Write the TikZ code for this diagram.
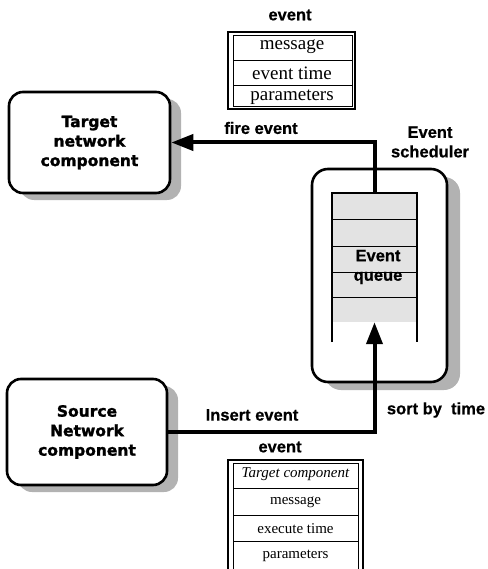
\documentclass[tikz,border=0pt]{standalone}
\usepackage{fontspec}
\setmainfont{Liberation Serif}
\newfontfamily\labelfont[BoldFeatures={FakeBold=0.6}]{Liberation Sans}
\newfontfamily\heavyfont[BoldFeatures={FakeBold=1.6}]{DejaVu Sans}
\usetikzlibrary{arrows.meta,shadows}

\begin{document}
\begin{tikzpicture}[x=1pt,y=-1pt,
  compbox/.style={draw, line width=2.6pt, rounded corners=14pt, fill=white,
    align=center, inner sep=0pt,
    font=\heavyfont\bfseries\fontsize{15.5}{19.5}\selectfont,
    drop shadow={shadow xshift=11pt, shadow yshift=-7pt, fill=gray!60, opacity=1}},
  schedbox/.style={draw, line width=2.6pt, rounded corners=16pt, fill=white,
    inner sep=0pt,
    drop shadow={shadow xshift=13pt, shadow yshift=-8pt, fill=gray!60, opacity=1}},
  queuebox/.style={fill=gray!22, inner sep=0pt},
  lbl/.style={font=\labelfont\bfseries\fontsize{16.5}{19.5}\selectfont, align=center, inner sep=0pt},
  conn/.style={line width=4pt, -{Triangle[length=22pt, width=16pt]}},
  framebig/.style={line width=1.3pt},
  framethin/.style={line width=0.6pt},
  cellA/.style={font=\fontsize{19}{22}\selectfont, inner sep=0pt},
  cellB/.style={font=\fontsize{15}{18}\selectfont, inner sep=0pt}
]
\useasboundingbox (0,0) rectangle (487,569);

% components
\node[compbox, minimum width=161pt, minimum height=101pt] (target) at (89.5,142.5)
  {Target\\network\\component};
\node[compbox, minimum width=160pt, minimum height=106pt] (source) at (87,432)
  {Source\\Network\\component};

% event scheduler with its queue
\node[schedbox, minimum width=135pt, minimum height=213pt] (sched) at (379.5,275.5) {};
\node[queuebox, minimum width=85pt, minimum height=129pt] (queue) at (374.5,257.5) {};
\foreach \yy in {219,246,272,297}
  \draw[line width=0.9pt] (332,\yy) -- (417,\yy);
\draw[line width=2.2pt] ([yshift=-20pt]queue.south west) -- (queue.north west)
  -- (queue.north east) -- ([yshift=-20pt]queue.south east);
\node[lbl] (qtext) at (378,267) {Event\\queue};

% connectors
\draw[conn] (queue.north) |- (target.east);
\draw[conn] (source.east) -| (queue.south);

% labels
\node[lbl] (schedlbl) at (430,142) {Event\\scheduler};
\node[lbl] (firelbl) at (261,128) {fire event};
\node[lbl] (insertlbl) at (252,415) {Insert event};
\node[lbl] (sortlbl) at (436,410) {sort by\ \ time};
\node[lbl] (evtop) at (290,15) {event};
\node[lbl] (evbot) at (280,447) {event};

% event record sent to the target
\draw[framebig] (228,32) rectangle (355,109);
\draw[framethin] (233,35) rectangle (352,106);
\draw[framethin] (233,60) -- (352,60);
\draw[framethin] (233,85) -- (352,85);
\node[cellA] (tmsg) at (292,46.5) {message};
\node[cellA] (ttime) at (292,73) {event time};
\node[cellA] (tpar) at (292,97.5) {parameters};

% event record inserted by the source
\draw[framebig] (228,460) rectangle (363,572);
\draw[framethin] (233,463) rectangle (358,572);
\draw[framethin] (233,488) -- (358,488);
\draw[framethin] (233,515) -- (358,515);
\draw[framethin] (233,541) -- (358,541);
\node[cellB] (btarget) at (295.5,474.5) {\itshape Target component};
\node[cellB] (bmsg) at (295.5,502) {message};
\node[cellB] (btime) at (295.5,528.5) {execute time};
\node[cellB] (bpar) at (295.5,555.5) {parameters};
\end{tikzpicture}
\end{document}
